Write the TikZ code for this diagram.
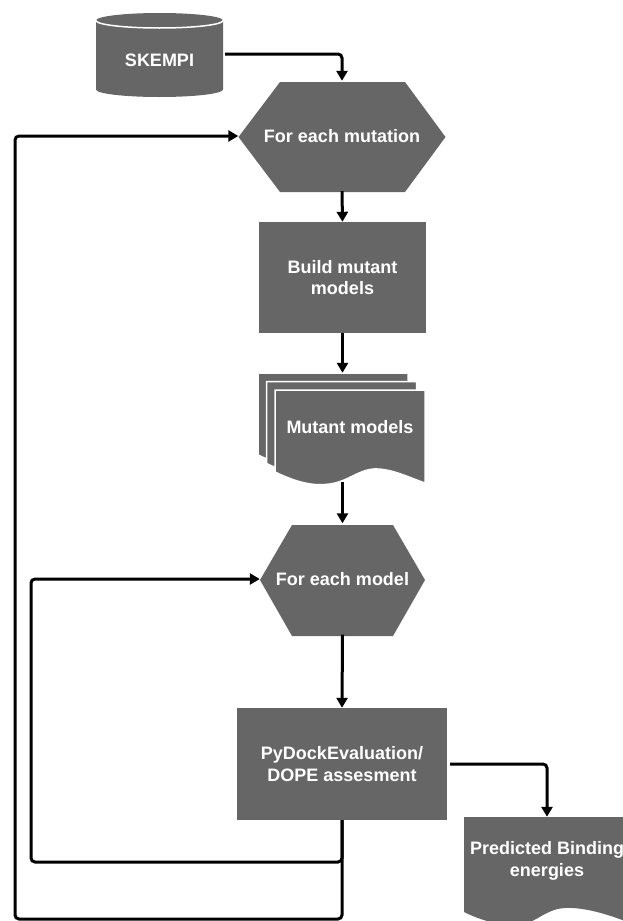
\documentclass[tikz,border=0pt]{standalone}
\usepackage{fontspec}
\setmainfont{Liberation Sans}
\usetikzlibrary{arrows.meta}
\definecolor{boxgray}{HTML}{666666}
\begin{document}
\begin{tikzpicture}[x=1pt,y=-1pt,
  lbl/.style={text=white,font=\bfseries\fontsize{18}{21.5}\selectfont,align=center,inner sep=0pt},
  box/.style={lbl,fill=boxgray},
  shapefill/.style={fill=boxgray},
  conn/.style={line width=3pt,rounded corners=4pt},
  arr/.style={conn,-{Triangle[length=10pt,width=11pt]}}]
\useasboundingbox (0,0) rectangle (623,921);

% SKEMPI cylinder
\fill[shapefill] (96,20.5) -- (96,89.5) arc[start angle=180,end angle=360,x radius=63.5pt,y radius=7.5pt]
  -- (223,20.5) arc[start angle=0,end angle=180,x radius=63.5pt,y radius=7.5pt] -- cycle;
\draw[white,line width=1.5pt] (96,20.5) arc[start angle=180,end angle=360,x radius=63.5pt,y radius=7.5pt];
\node[lbl,minimum width=127pt,minimum height=76pt] (sk) at (159.5,60) {SKEMPI};

% hexagon 1
\fill[shapefill] (238.5,137) -- (280,82) -- (405,82) -- (445.5,137) -- (405,192) -- (280,192) -- cycle;
\node[lbl,minimum width=207pt,minimum height=110pt] (h1) at (342,136) {For each mutation};

% box 1
\node[box,minimum width=167pt,minimum height=111pt] (b1) at (342.5,277.5) {Build mutant\\models};

% mutant models stack
\foreach \d in {17,8.5,0} {
  \filldraw[shapefill,draw=white,line width=1.5pt,shift={(-\d,-\d)}]
    (275,390) -- (425,390) -- (425,483)
    .. controls (410,478) and (395,470) .. (378,469)
    .. controls (360,468) and (350,481) .. (330,484)
    .. controls (315,486) and (300,484) .. (275,472) -- cycle;
}
\node[lbl,minimum width=167pt,minimum height=110pt] (mmb) at (333,428) {};
\node[lbl,minimum width=150pt,minimum height=74pt] (mm) at (350,427) {Mutant models};
\coordinate (mmbot) at (342.5,482);

% hexagon 2
\fill[shapefill] (260,580) -- (292,525) -- (393,525) -- (425,580) -- (393,636) -- (292,636) -- cycle;
\node[lbl,minimum width=165pt,minimum height=111pt] (h2) at (342.5,579) {For each model};

% box 2
\node[box,minimum width=210pt,minimum height=112pt] (b2) at (342,764) {PyDockEvaluation/\\DOPE assesment};

% predicted binding energies document
\fill[shapefill] (464,817) -- (630,817) -- (630,923)
  .. controls (610,915) and (585,907) .. (565,908)
  .. controls (545,909) and (535,924) .. (519,925)
  .. controls (500,926) and (480,920) .. (464,912) -- cycle;
\node[lbl,minimum width=164pt,minimum height=88pt] (pd) at (547,861) {Predicted Binding\\energies};

% loop corners
\coordinate (il) at (31,862);
\coordinate (ol) at (15,919);

% connectors
\draw[arr] ([xshift=2pt,yshift=6pt]sk.east) -| (h1.north);
\draw[arr] (h1.south) -- (b1.north);
\draw[arr] (b1.south) -- (b1.south |- mmb.north);
\draw[arr] (mmbot) -- (h2.north);
\draw[arr] (h2.south) -- (b2.north);
\draw[arr] ([xshift=3pt]b2.east) -| (pd.north);
\draw[arr] (b2.south) |- (il) |- (h2.west);
\draw[arr] (b2.south) |- (ol) |- (h1.west);
\end{tikzpicture}
\end{document}
